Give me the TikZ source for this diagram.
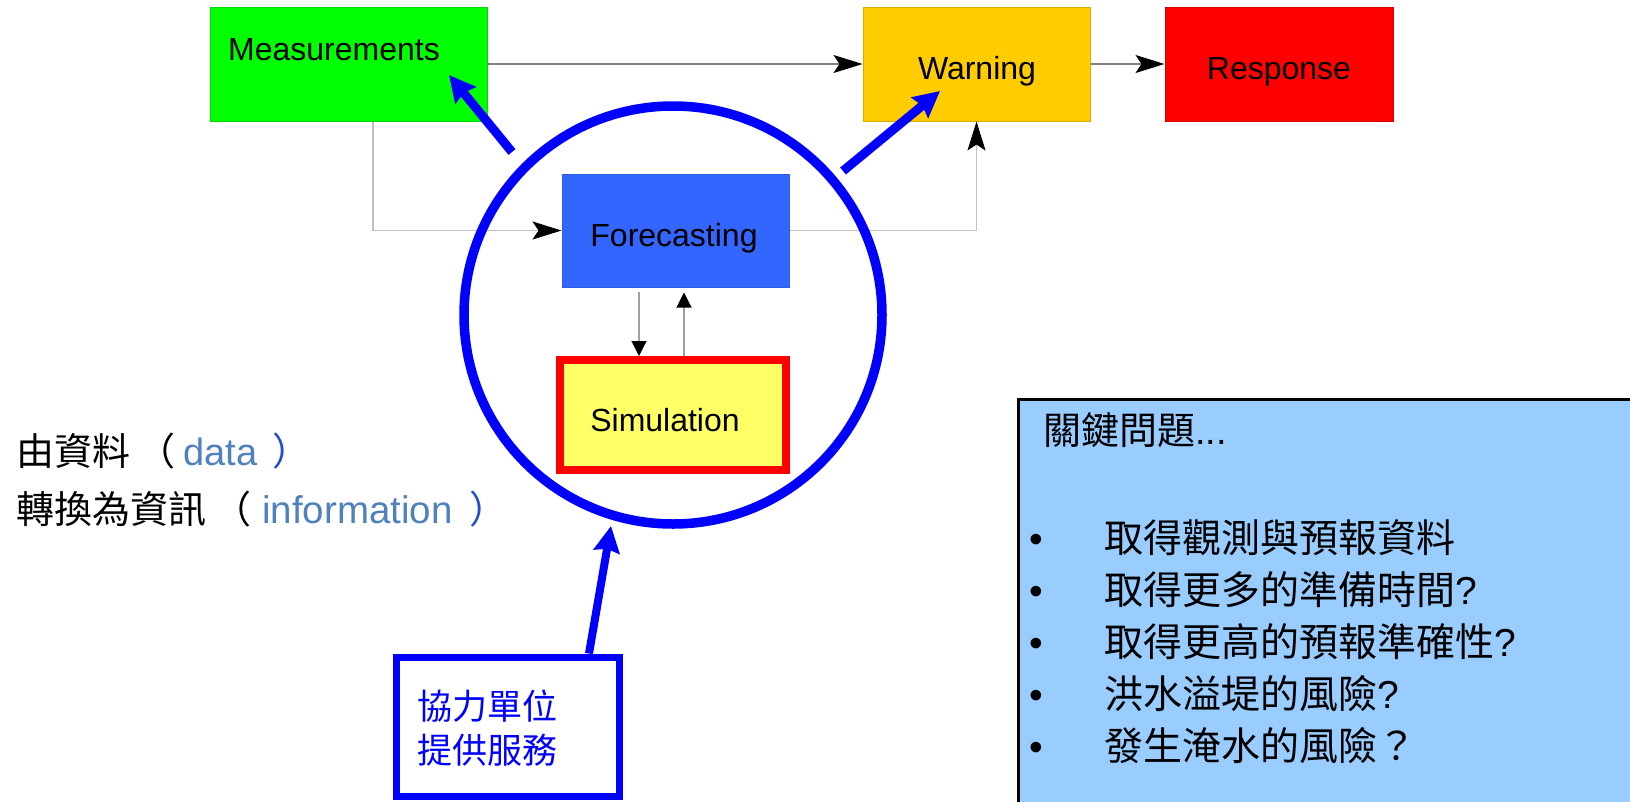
\documentclass[tikz,border=0pt]{standalone}
\usepackage{fontspec}
\setmainfont{Liberation Sans}
\newfontfamily\cjk{Noto Sans CJK TC}
\usetikzlibrary{arrows.meta,calc}

\definecolor{measGreen}{HTML}{00FF00}
\definecolor{warnAmber}{HTML}{FFCC00}
\definecolor{respRed}{HTML}{FF0000}
\definecolor{foreBlue}{HTML}{3366FF}
\definecolor{simYellow}{HTML}{FFFF66}
\definecolor{ringBlue}{HTML}{0000FF}
\definecolor{noteBlue}{HTML}{99CCFF}
\definecolor{dataBlue}{HTML}{4F81BD}
\definecolor{parenBlue}{HTML}{1F4FCC}
\definecolor{linkGray}{HTML}{808080}
\definecolor{paleGray}{HTML}{C0C0C0}
\definecolor{stemGray}{HTML}{A0A0A0}

\begin{document}
\begin{tikzpicture}[x=1pt,y=-1pt,
  stage/.style={rectangle, inner sep=0pt, line width=1pt,
    minimum width=227pt, minimum height=114pt},
  boxtext/.style={inner sep=0pt, font=\fontsize{32}{38}\selectfont},
  sidetext/.style={inner sep=0pt, anchor=base west, font=\fontsize{38}{46}\selectfont},
  notetext/.style={inner sep=0pt, anchor=base west, font=\fontsize{39}{52}\selectfont},
  cooptext/.style={inner sep=0pt, anchor=base west, text=ringBlue,
    font=\cjk\fontsize{35}{44}\selectfont},
  flow/.style={draw=linkGray, line width=1.1pt,
    -{Stealth[length=29pt,width=18pt,inset=6pt,color=black]}},
  paleflow/.style={flow, draw=paleGray},
  stem/.style={draw=stemGray, line width=1.1pt,
    -{Triangle[length=15pt,width=15pt,color=black]}},
  ringarrow/.style={draw=ringBlue, line width=9pt,
    -{Stealth[length=26pt,width=26pt,inset=3pt]}}
]
\path[use as bounding box, clip] (0,0) rectangle (1630,801);

% process stages
\node[stage, fill=measGreen, draw=measGreen!85!black, minimum width=277pt] (meas) at (348.5,64) {};
\node[stage, fill=warnAmber, draw=warnAmber!85!black] (warn) at (976.5,64) {};
\node[stage, fill=respRed, draw=respRed!85!black, minimum width=228pt] (resp) at (1279,64) {};
\node[stage, fill=foreBlue, draw=foreBlue!90!black, minimum height=113pt] (fore) at (675.5,230.5) {};
\node[rectangle, inner sep=0pt, fill=simYellow, draw=respRed, line width=8pt,
  minimum width=226pt, minimum height=110pt] (sim) at (673,415) {};

\node[boxtext, anchor=base west] (measText) at (228,60) {Measurements};
\node[boxtext, anchor=base] (warnText) at (977,79) {Warning};
\node[boxtext, anchor=base] (respText) at (1279,79) {Response};
\node[boxtext, anchor=base] (foreText) at (674,246) {Forecasting};
\node[boxtext, anchor=base] (simText) at (665,431) {Simulation};

% thin flow connectors
\coordinate (tapX) at (373,0);
\coordinate (downX) at (639,0);
\coordinate (upX) at (684,0);
\draw[flow] (meas.east) -- (warn.west);
\draw[flow] (warn.east) -- (resp.west);
\draw[paleflow] (meas.south -| tapX) |- (fore.west);
\draw[paleflow] (fore.east) -| (warn.south);
\draw[stem, shorten <=4pt] (fore.south -| downX) -- (sim.north -| downX);
\draw[stem, shorten >=5pt] (sim.north -| upX) -- (fore.south -| upX);

% ring around the forecasting core
\node[circle, draw=ringBlue, line width=9.5pt, inner sep=0pt, minimum size=418pt] (core) at (673,315) {};

% partner box
\node[rectangle, draw=ringBlue, line width=7pt, inner sep=0pt,
  minimum width=223pt, minimum height=139pt] (coop) at (507.5,726.5) {};
\node[cooptext] (coopA) at (417,719) {協力單位};
\node[cooptext] (coopB) at (417,763) {提供服務};

% thick blue arrows
\coordinate (mTail) at (512,152);
\coordinate (mTip) at (449,75);
\coordinate (wTail) at (843,171);
\coordinate (wTip) at (940,91);
\coordinate (cTailX) at (589,0);
\coordinate (cTip) at (611,526);
\draw[ringarrow] (mTail) -- (mTip);
\draw[ringarrow] (wTail) -- (wTip);
\draw[ringarrow, line width=8pt] (coop.north -| cTailX) -- (cTip);

% side caption
\node[sidetext] (capA) at (16,465)
  {{\cjk 由資料}\hspace{7pt}{\cjk （}\hspace{8pt}{\color{dataBlue}data}\hspace{15pt}{\cjk\color{parenBlue}）}};
\node[sidetext] (capB) at (16,523)
  {{\cjk 轉換為資訊}\hspace{7pt}{\cjk （}\hspace{11pt}{\color{dataBlue}\fontsize{38.5}{46}\selectfont information}\hspace{17pt}{\cjk\color{parenBlue}）}};

% key questions panel
\node[rectangle, draw=black, fill=noteBlue, line width=2.5pt, inner sep=0pt,
  anchor=north west, minimum width=660pt, minimum height=440pt] (keys) at (1017,398) {};
\node[inner sep=0pt, anchor=base west, font=\fontsize{38}{46}\selectfont] (keyTitle) at (1043,444)
  {{\cjk 關鍵問題}...};
\node[notetext, anchor=base] (dotA) at (1036,552) {•};
\node[notetext, anchor=base] (dotB) at (1036,604) {•};
\node[notetext, anchor=base] (dotC) at (1036,656) {•};
\node[notetext, anchor=base] (dotD) at (1036,708) {•};
\node[notetext, anchor=base] (dotE) at (1036,760) {•};
\node[notetext] (qA) at (1104,552) {{\cjk 取得觀測與預報資料}};
\node[notetext] (qB) at (1104,604) {{\cjk 取得更多的準備時間}?};
\node[notetext] (qC) at (1104,656) {{\cjk 取得更高的預報準確性}?};
\node[notetext] (qD) at (1104,708) {{\cjk 洪水溢堤的風險}?};
\node[notetext] (qE) at (1104,760) {{\cjk 發生淹水的風險？}};
\end{tikzpicture}
\end{document}
